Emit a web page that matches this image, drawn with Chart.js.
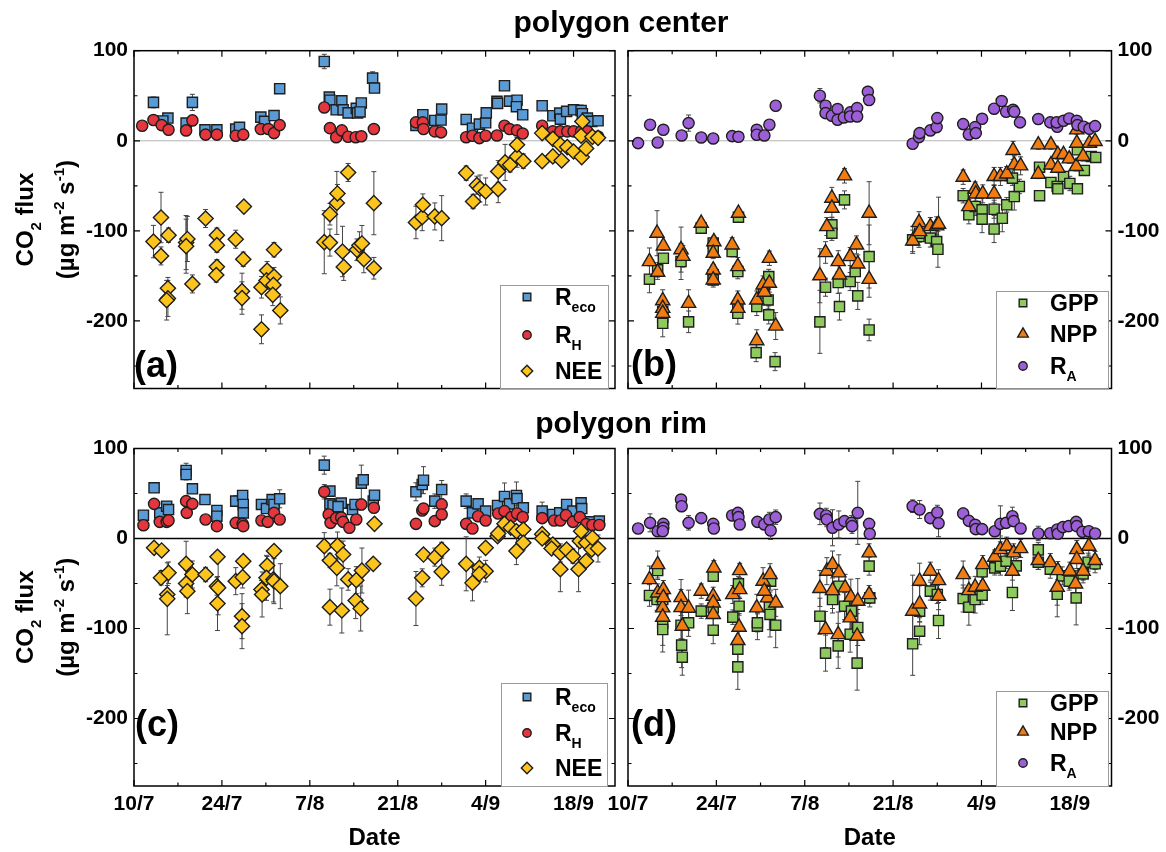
<!DOCTYPE html>
<html lang="en">
<head>
  <meta charset="UTF-8" />
  <title>CO2 flux - polygon center and rim</title>
  <style>
    body { margin: 0; background: #fff; font-family: "Liberation Sans", Arial, sans-serif; }
    #page { position: relative; width: 1166px; height: 852px; overflow: hidden; }
    #page canvas { position: absolute; left: 0; top: 0; }
    .title { position: absolute; left: 421px; width: 400px; text-align: center; font-weight: bold; font-size: 30px; line-height: 34px; }
  </style>
  <script src="https://cdn.jsdelivr.net/npm/chart.js"></script>
</head>
<body>
  <div id="page">
    <canvas id="chartA" width="1166" height="852"></canvas>
    <canvas id="chartB" width="1166" height="852"></canvas>
    <canvas id="chartC" width="1166" height="852"></canvas>
    <canvas id="chartD" width="1166" height="852"></canvas>
    <div class="title" style="top:5px">polygon center</div>
    <div class="title" style="top:406px">polygon rim</div>
  </div>

  <script>
    // x = days after 10 July, tick every 7 days, label every 14
    const dateLabels = ['10/7', '24/7', '7/8', '21/8', '4/9', '18/9'];
    const yTickLabels = [-200, -100, 0, 100];

    // [day, flux, error]  -- polygon center
    const recoCenter = [
      [3.1,42.6,6],[5.4,25.2,4],[4.6,22,3],[8.3,19.6,4],[9.3,42.6,9],[11.3,12.2,3],[13.2,12.2,3],[16.2,13,3],[16.8,15,3],
      [20.2,26.3,4],[20.8,21.5,4],[22.3,28,5],[23.2,57.8,5],
      [30.3,88,8],[31.1,48.5,5],[31.2,45,4],[32.2,34.4,4],[33.1,44.4,5],[33.3,34.4,4],[34.1,31,3],[35.4,36,4],[35.6,31,3],
      [36.2,42,4],[36.0,32,3],[38.0,69.6,7],[38.3,58.5,5],
      [44.9,17,3],[46,28.9,4],[47.9,22.6,4],[48.9,23,4],[49,35.2,4],
      [52.9,23.7,4],[53.9,14,3],[55,18.5,3],[56,20,4],[56.1,31,4],
      [57.8,43.7,4],[57.9,41.5,4],[59,61.1,4],[59.8,44,4],[61,45,4],[60.9,37.8,4],[61.9,28.9,4],
      [65,38.9,4],[66.7,27.8,4],[67.8,30.7,4],[67.9,24,4],[68.9,32.6,4],[70,34.4,4],[71.2,33.7,6],[71.4,30,4],
      [72.2,25.2,4],[72.9,21.5,4],[73.9,22.2,4]
    ];
    const rhCenter = [
      [1.3,16.7,4],[3.1,23,3],[4.4,17.4,3],[5.5,12.2,3],[8.3,11.5,3],[9.3,22.6,3],[11.4,6.8,3],[13.2,6.8,3],[16.2,5.6,3],
      [17.4,6.8,3],[20.2,13,3],[21.4,13,3],[22.3,8.5,3],[23.2,17.4,3],
      [30.3,37,3],[31.2,14,3],[32.2,4,3],[33.1,11.5,3],[34.1,4.5,3],[35.3,4,3],[36.2,5,3],[38.2,13,3],
      [44.9,20.4,3],[46,20.4,3],[46.1,13,3],[47.9,10.4,3],[48.9,9.3,3],
      [52.9,4,3],[53.9,5.6,3],[55,3,3],[56,5.6,3],[57.8,5.9,3],[59,16.7,3],[59.8,13,3],[61,11.5,3],[61.9,8,3],
      [65,16.7,3],[66.7,10.4,3],[67.9,10.4,3],[69,10.4,3],[70,10.4,3],[71.2,10.4,3],[72.2,10.4,3],[73.9,4.8,3]
    ];
    const neeCenter = [
      [3.1,-111.9,18],[4.3,-85.2,28],[4.3,-127.8,10],[5.5,-104.8,8],[5.4,-163.7,12],[5.4,-175,20],[5.2,-177,22],
      [8.3,-113,30],[8.5,-109,25],[8.3,-117,30],[9.3,-158.9,10],[11.4,-86.3,10],
      [13.2,-104.8,8],[13.2,-115.9,8],[13.2,-139.9,8],[13.1,-149,8],
      [16.2,-109.3,10],[17.5,-73,5],[17.4,-131.5,8],[17.2,-167,20],[17.2,-174.6,18],
      [20.3,-162.6,12],[20.3,-209.3,16],[21.2,-144,10],[21.1,-155,10],[22.3,-121,8],[22.3,-150.7,10],[22.2,-160,12],
      [22.1,-171,12],[23.3,-188.3,15],
      [30.3,-112.6,35],[31.2,-113,15],[31.2,-81.5,12],[32.3,-69,35],[32.4,-58.5,10],[34.1,-35.2,10],[33.2,-122.9,28],
      [33.4,-140,15],[35.5,-121,12],[35.9,-116,15],[36.3,-114,20],[36.6,-131.5,15],[38.2,-69.3,35],[38.2,-141.5,12],
      [44.9,-90.7,18],[45.9,-84.8,15],[46,-71,12],[47.9,-84,15],[49,-85.9,25],
      [52.9,-35.9,8],[54,-67.4,8],[54.6,-49.3,10],[55.1,-53,15],[56,-56.3,15],[58,-53.7,15],[58,-34,12],
      [59.1,-24,20],[59.9,-26.7,8],[61,-17.4,12],[61,-4.4,8],[62,-22.6,8],
      [65,-22.6,5],[65,8.5,5],[66.7,2.2,5],[66.7,-17.4,5],[67.9,-4.4,5],[68.1,-21.9,5],[69,-7,5],[70,-11.9,5],
      [71.2,5.6,5],[71.4,21.5,5],[71.3,-18.1,5],[72,-8.5,5],[73,4.4,5],[73.9,3.3,5]
    ];
    const raCenter = [
      [1.6,-2.6,3],[3.5,17.8,5],[4.7,-1.9,3],[5.6,12.2,3],[8.5,5.9,4],[9.6,19.6,9],[11.6,3.7,3],[13.5,2.6,3],[16.5,5.2,3],
      [17.5,4.4,3],[20.4,12.2,3],[20.4,6.7,3],[21.6,5.9,3],[22.4,17.8,4],[23.4,38.9,5],
      [30.4,50,8],[31.3,38.9,4],[31.3,30.7,4],[32.3,27.8,3],[33.2,35.2,4],[33.2,23.3,3],[34.2,25.9,3],[35.2,31.5,3],
      [35.2,27,3],[36.3,36.3,3],[36.3,27,3],[38,54.4,6],[38.2,45.2,4],
      [45.1,-3.3,3],[46.1,4.1,3],[46.2,8.5,3],[47.9,11.5,3],[48.9,15.2,3],[49,25.2,3],
      [53.1,18.5,3],[54,7,3],[55,15.2,3],[55.1,8.5,3],[56.1,24.4,3],
      [58,35.6,3],[59.2,44.1,4],[59.9,32.2,3],[61,34.4,4],[61.2,32.2,3],[62.1,20.4,4],
      [65,24.1,3],[66.9,20.4,3],[68,15.6,3],[67.9,20.4,3],[69,22.2,3],[69.9,24.8,4],[71.1,22.2,3],[71.2,17.4,3],
      [72.2,15.6,3],[73.1,13.3,3],[74,16.3,3]
    ];
    const gppCenter = [
      [3.4,-153.7,15],[4.7,-143.3,8],[5.6,-130.4,5],[5.5,-189.6,12],[5.5,-195.9,12],[5.5,-202.6,15],[8.4,-134,20],
      [9.6,-201,12],[11.6,-97,5],
      [13.5,-113.6,6],[13.5,-119,6],[13.5,-148.9,8],[13.5,-154.4,8],[16.5,-122.9,6],[17.5,-84.8,5],[17.4,-145.2,8],
      [17.4,-184,10],[17.4,-191.5,12],
      [20.4,-184,10],[20.3,-235.2,10],[21.5,-169,10],[22.2,-176.7,10],[22.3,-193.3,10],[22.3,-150.7,8],[23.3,-245.2,10],
      [30.4,-201,35],[31.3,-162.6,10],[32.3,-93.3,8],[32.3,-102.6,8],[33.3,-157.4,12],[33.5,-184,15],[34.3,-65.6,10],
      [35.2,-156.3,10],[36,-145.2,12],[36.4,-172.2,15],[38.2,-128.5,35],[38.2,-210,12],
      [45.1,-110,15],[46.1,-106.3,12],[46.2,-102.6,10],[47.9,-108,10],[48.9,-111.9,12],[49.1,-120.4,20],
      [53.1,-61,8],[54,-82.2,10],[55,-72.9,10],[56.1,-76.7,15],[56.1,-87,15],
      [58,-98,15],[58,-76,10],[59.3,-86,15],[60,-71.1,8],[61.2,-61.9,15],[62,-50.7,8],[60.9,-41.5,8],
      [65.2,-61,5],[65.2,-29.3,5],[67,-46.3,5],[68,-50.7,5],[68.1,-53.3,5],[69,-39.6,5],[70,-47.4,8],[71.2,-53.3,5],
      [71.2,-10,5],[72.3,-32.9,5],[73.4,-17.4,5],[74.1,-18.5,5]
    ];
    const nppCenter = [
      [3.4,-134,15],[4.6,-102.6,25],[4.7,-145.9,8],[5.6,-116.7,5],[5.5,-177.4,12],[5.5,-185.9,12],[5.5,-191.5,12],
      [8.4,-120.8,25],[8.7,-128.2,12],[9.6,-180.4,15],[11.6,-91.5,5],
      [13.6,-111.9,6],[13.5,-124.8,6],[13.5,-143.3,6],[13.5,-154.4,6],[16.5,-115.6,8],[17.5,-80.4,5],[17.4,-139.6,10],
      [17.4,-176.7,10],[17.4,-185.9,10],
      [20.4,-176.7,10],[20.4,-221.8,12],[21.4,-160,10],[21.6,-168,10],[22.4,-158,10],[22.4,-130.4,8],[23.4,-205.6,15],
      [30.4,-149.8,30],[31.3,-124,12],[32.3,-63.7,12],[32.3,-74.8,10],[31.5,-95.2,10],[33.3,-134,12],[33.5,-148.9,12],
      [34.3,-38.9,8],[35.2,-128.5,10],[36.2,-115.6,10],[36.4,-136.7,10],[38.2,-80.4,35],[38.2,-153.7,20],
      [45.1,-111.1,12],[46.1,-90.7,12],[46.2,-100.7,10],[47.9,-95.2,10],[48.9,-94.4,10],[49.2,-92.6,30],
      [53.1,-40.4,8],[54,-73,8],[55,-53.7,8],[55.1,-58.9,8],[56.2,-58.9,10],
      [58,-58.9,10],[58,-39.6,10],[59,-39.6,10],[60,-36.7,8],[61,-10.7,10],[61.2,-26.7,10],[62.2,-27.8,10],
      [65,-4.4,5],[65,-37,5],[67,-4.4,5],[68.1,-15.2,5],[69,-15.2,5],[67,-26.7,5],[68.1,-30.4,5],[69.9,-20,5],
      [71,-28.5,5],[71.1,12.2,5],[71.1,-2.6,5],[73.1,-2.6,5],[74,-0.7,5],[72.1,-17.4,5]
    ];

    // polygon rim
    const recoRim = [
      [1.5,25.9,4],[3.2,56.3,4],[4.1,28.5,4],[5.2,35.9,5],[5.5,32.2,5],[8.3,75.6,8],[8.3,71.1,6],[9.3,55.2,4],[11.3,43.3,4],
      [13.2,31.1,5],[13.2,24.8,4],
      [16.2,41.5,6],[17.3,47.8,4],[17.4,37.8,4],[17.4,28.5,4],[20.3,37.8,4],[21.1,33.3,4],[22,43.3,5],[22.3,37.8,5],[23.2,44.1,10],
      [30.3,81.5,10],[31.2,52.6,5],[31.2,38.5,4],[31.7,37,4],[33,39.3,5],[32.5,35.5,4],[34.8,32.2,5],[35.2,37.8,5],
      [36.2,61.5,20],[36.5,65.2,5],[38.1,41.5,5],[38.3,48.1,5],
      [44.9,51.9,10],[45.9,60,10],[46.1,64.8,15],[47.9,41.5,8],[49,54.4,10],
      [52.9,41.5,8],[53.9,28.5,5],[54.8,38.5,5],[56,30.4,5],
      [57.9,36.7,5],[59,46.7,15],[59.8,38.5,5],[60.9,47.8,15],[61,44.4,8],[62,34.1,5],
      [65,30.4,10],[66.7,26.7,5],[67.8,28.5,5],[68.9,37.8,5],[69.9,30.4,5],[71.2,39.6,5],[71.3,33.3,5],[72.6,18.5,5],[74.1,19.3,5]
    ];
    const rhRim = [
      [1.5,14.8,4],[3.2,38.5,5],[4.1,18.5,4],[5.2,18.5,4],[5.5,20,4],[8.3,41.5,5],[8.4,28.5,4],[9.3,38.5,4],[11.4,21.1,4],
      [13.2,13.7,5],[16.2,17.4,4],[17.3,16.3,4],[17.4,13.7,4],[20.3,20,4],[21.3,18.5,4],[22.3,28.5,4],[23.2,21.1,4],
      [30.3,51.9,8],[31,26.7,4],[31.3,17.4,4],[32.2,22.6,4],[33,23.3,5],[33.3,18.5,4],[34.3,11.9,4],[35.4,21.1,5],
      [36.2,37.8,6],[38.2,34.1,5],
      [44.9,16.3,4],[45.9,31.1,4],[46.1,33.3,4],[47.9,19.3,4],[49,37.8,4],[49,26.7,4],
      [52.9,16.3,4],[53.9,11.1,4],[54.8,24.8,4],[56,20,4],
      [58,27.8,4],[59,30.4,4],[60.1,23.7,4],[61,27.8,4],[61.9,23.7,4],
      [65,22.6,4],[66.9,20,4],[67.9,20,4],[68.8,25.9,4],[69.9,18.5,4],[71,23.7,4],[72,16,4],[73,15,4],[74.1,15,4]
    ];
    const neeRim = [
      [3.2,-10.4,5],[4.4,-13.3,5],[4.3,-43.7,8],[5.5,-38.1,12],[5.3,-62.2,10],[5.3,-67,40],
      [8.3,-28.1,25],[8.3,-50,15],[8.5,-58.5,25],[9.3,-40,15],[11.4,-40,8],
      [13.3,-20.4,5],[13.2,-53,10],[13.4,-54.8,30],[13.3,-72.2,30],
      [16.2,-47.4,15],[17.4,-25.2,5],[17.3,-43,12],[17.2,-86.3,25],[17.2,-97.4,25],
      [20.3,-56.7,10],[20.4,-62.2,25],[21.2,-30,10],[21.1,-43.7,25],[22.3,-14,5],[22.2,-45.5,25],[22.3,-47.4,25],[23.3,-53,25],
      [30.3,-8.5,15],[31.2,-24.4,8],[31.2,-76.3,20],[32.3,-32.6,20],[32.4,-7.8,15],[33.3,-17.8,15],[33.1,-80,25],
      [34.1,-45.5,12],[35.4,-46.3,15],[35.3,-69,20],[36.1,-77.8,25],[36.3,-35.6,25],[38.1,-28.1,5],[38.3,16.3,5],
      [44.9,-66.7,30],[45.9,-43.7,10],[46.1,-17.8,5],[47.9,-20.7,10],[49,-12.2,8],[49,-37,15],
      [52.9,-28.1,30],[53.9,-49.3,20],[55,-32.6,12],[56,-36.3,12],[55,-39.3,8],[56,-10.4,5],
      [57.9,2.6,5],[58,5.6,5],[59,16.3,5],[60,12,5],[60.9,8.1,5],[62,10,5],[62,-4.8,8],[60.9,-14,15],
      [65,4.8,5],[65,0,5],[66.7,-6.7,5],[66.5,-11.1,5],[67.9,-16,10],[68.9,-12.2,5],[69.9,-19.6,8],[71,-2.9,5],
      [72,-4.8,5],[72.9,-12.2,5],[73.9,-11.1,15],[73,0.7,5],[67.9,-34.1,25],[70.8,-34.1,25],[72,-25,5],[71.2,8.1,5]
    ];
    const raRim = [
      [1.6,11.1,4],[3.5,17.4,10],[4.7,8.1,4],[5.6,16.3,5],[5.6,11.9,4],[5.5,8.1,4],[8.4,43.3,5],[8.5,35.9,6],[9.6,17.4,8],
      [11.6,22.6,4],[13.5,16.3,4],[13.6,11.1,4],
      [16.5,25.6,4],[17.4,28.5,6],[17.5,23.7,4],[17.7,15.6,4],[20.5,18.5,5],[21.6,15.6,5],[22.4,21.1,8],[22.6,8.9,10],[23.4,23.7,8],
      [30.4,27.4,12],[31.4,25.6,8],[31.5,21.1,8],[32.4,11.9,20],[33.4,15.6,15],[34.3,19.3,5],[35.4,17.4,8],[35.5,13.7,8],
      [36.4,28.5,35],[38.2,16.3,5],[38.3,5.2,5],
      [45.1,35.9,7],[46.2,32.2,10],[47.9,22.6,6],[49,28.9,8],[49.2,17,15],
      [53.1,27.8,6],[54,19.6,5],[55,15.2,5],[55.1,10.4,5],[56.1,10.4,5],
      [58.1,8.1,5],[59,16.3,20],[59.9,17.4,5],[60.9,24.8,10],[61.1,19.3,5],[62.2,11.1,5],
      [65,5.6,8],[66.9,5.9,5],[68,10,5],[68.1,5.2,5],[68.9,12.6,5],[69.8,13.7,5],[71,18.5,5],[71.1,13.7,5],[72,7.4,5],
      [73,8.1,5],[74,5.6,5]
    ];
    const gppRim = [
      [3.4,-63.3,12],[4.7,-35.6,10],[4.6,-67.8,12],[5.5,-67.8,12],[5.5,-93.7,25],[5.5,-101.1,25],
      [8.4,-96.3,15],[8.5,-118.5,25],[8.6,-131.9,20],[9.6,-93.7,15],[11.6,-80.7,8],
      [13.5,-41.9,5],[13.5,-77,12],[13.5,-101.9,15],[16.6,-87.4,8],[17.5,-50.4,8],[17.6,-75.2,10],[17.4,-123,15],[17.4,-142.6,25],
      [20.5,-97.4,15],[20.5,-93.7,10],[22.4,-76.3,25],[22.5,-84.4,25],[23.4,-96.3,25],[22.6,-47.4,10],
      [30.4,-86.3,20],[31.3,-127.4,20],[32.4,-67.8,15],[33.4,-53,20],[33.3,-119.3,25],[34.3,-75.2,15],[35.2,-106.3,20],
      [35.4,-80.7,20],[36.4,-98.9,20],[36.3,-138.5,30],[38.2,-30.7,10],[38.3,-66,10],
      [45.1,-117,35],[46.2,-80.7,12],[46.2,-103,15],[47.9,-58.5,10],[49,-62.2,10],[49.2,-91.1,20],
      [53.1,-66.7,15],[54,-76.3,20],[55,-67.8,15],[56.1,-63,10],[56.1,-37,10],
      [58.1,-32.6,8],[59,-30.7,10],[59.9,-25.2,8],[60.9,-60,20],[61.5,-30.4,8],
      [65,-12.6,8],[65,-26.3,8],[66.9,-34.1,10],[68,-62,25],[68.8,-41.5,10],[69.9,-47.4,10],[71,-66,30],[72.1,-39.3,10],
      [72.9,-26.3,10],[74,-28.1,10]
    ];
    const nppRim = [
      [3.4,-45.6,15],[4.7,-28.9,15],[4.7,-60.4,10],[5.6,-56.7,10],[5.5,-77,15],[5.5,-87.4,15],[5.6,-65.6,10],
      [8.4,-65.6,20],[8.4,-76.7,20],[9.6,-77.4,20],[8.6,-97.4,25],[11.6,-58.5,8],
      [13.6,-32.6,8],[13.5,-64.1,10],[13.5,-71.5,10],[13.5,-84.4,15],[16.6,-62.2,10],[17.7,-35.6,8],[17.7,-56.7,10],
      [17.6,-98.5,15],[17.4,-113.3,15],
      [20.4,-77,15],[21.4,-47.4,15],[22.5,-40,12],[22.1,-65.9,15],[23.4,-71.5,15],[21.6,-58.5,10],
      [30.4,-55.5,20],[31.3,-101.1,20],[31.5,-36.3,15],[32.4,-28.9,15],[32.4,-57.8,20],[33.4,-38.1,20],[33.3,-106.7,25],
      [34.4,-54.8,15],[35.3,-65.2,20],[35.2,-88.1,20],[36.4,-69.6,25],[36.3,-108.5,25],[38.2,-15.9,10],[38.2,-62.2,10],
      [45.1,-80.7,40],[46.2,-47.4,20],[46.2,-72.6,20],[47.9,-36.3,10],[49.2,-46.7,12],[49.2,-64.1,15],
      [53.1,-40,15],[54,-57.8,15],[55,-54.1,12],[56.2,-52.9,10],[56.2,-28.9,10],
      [58.1,-20.7,8],[59,-12.2,15],[60,-8.5,10],[60.9,-36.3,10],[61.1,-15.9,10],[62.2,-11.1,10],
      [65,-24.4,10],[66.9,-26.7,10],[68,-54.1,20],[68.1,-35.6,10],[70,-36.3,10],[70.9,-50.4,15],[71.1,-12.2,10],
      [71.1,-23.3,10],[72.1,-36.3,10],[73,-8.5,10],[74,-24.4,10]
    ];

    const FONT = '"Liberation Sans", Arial, sans-serif';
    const colors = {
      reco: '#5b9bd5', rh: '#e5353d', nee: '#fcc41c',
      gpp: '#8fca5f', npp: '#f27c12', ra: '#9d5fd8'
    };
    const radius = { rect: 7.2, circle: 5.6, rectRot: 7.6, triangle: 8.2 };

    function series(label, rows, color, style) {
      return {
        label: label,
        data: rows.map(r => ({ x: r[0], y: r[1], e: r[2] })),
        backgroundColor: color,
        borderColor: '#1e1e1e',
        borderWidth: 1.4,
        pointStyle: style,
        pointRadius: radius[style],
        pointHoverRadius: radius[style]
      };
    }

    function marker(ctx, style, x, y, r) {
      ctx.beginPath();
      if (style === 'rect') {
        const h = r * Math.SQRT1_2;
        ctx.rect(x - h, y - h, 2 * h, 2 * h);
      } else if (style === 'circle') {
        ctx.arc(x, y, r, 0, Math.PI * 2);
      } else if (style === 'rectRot') {
        ctx.moveTo(x - r, y); ctx.lineTo(x, y - r); ctx.lineTo(x + r, y); ctx.lineTo(x, y + r); ctx.closePath();
      } else {
        for (let k = 0; k < 3; k++) {
          const a = -Math.PI / 2 + k * 2 * Math.PI / 3;
          k ? ctx.lineTo(x + r * Math.cos(a), y + r * Math.sin(a)) : ctx.moveTo(x + r * Math.cos(a), y + r * Math.sin(a));
        }
        ctx.closePath();
      }
      ctx.fill();
      ctx.stroke();
    }

    // parts: [text, shift] with shift 1 = subscript, -1 = superscript
    function richText(ctx, parts, x, y, size, align) {
      const small = Math.round(size * 0.62);
      let w = 0;
      parts.forEach(([t, s]) => { ctx.font = 'bold ' + (s ? small : size) + 'px ' + FONT; w += ctx.measureText(t).width; });
      let cx = align === 'center' ? x - w / 2 : x;
      parts.forEach(([t, s]) => {
        ctx.font = 'bold ' + (s ? small : size) + 'px ' + FONT;
        const dy = s > 0 ? size * 0.32 : s < 0 ? -size * 0.4 : 0;
        ctx.fillText(t, cx, y + dy);
        cx += ctx.measureText(t).width;
      });
    }

    function panelPlugin(cfg) {
      return {
        id: 'panel',
        beforeDatasetsDraw(chart) {
          const { ctx, chartArea: a, scales: { x, y } } = chart;
          ctx.save();
          const y0 = y.getPixelForValue(0);
          ctx.strokeStyle = cfg.zeroColor;
          ctx.lineWidth = cfg.zeroWidth;
          ctx.beginPath(); ctx.moveTo(a.left, y0); ctx.lineTo(a.right, y0); ctx.stroke();

          // error bars
          ctx.strokeStyle = '#444';
          ctx.lineWidth = 1;
          chart.data.datasets.forEach(ds => {
            ds.data.forEach(p => {
              const px = x.getPixelForValue(p.x);
              const t = y.getPixelForValue(p.y + p.e), b = y.getPixelForValue(p.y - p.e);
              ctx.beginPath();
              ctx.moveTo(px, t); ctx.lineTo(px, b);
              ctx.moveTo(px - 2.5, t); ctx.lineTo(px + 2.5, t);
              ctx.moveTo(px - 2.5, b); ctx.lineTo(px + 2.5, b);
              ctx.stroke();
            });
          });
          ctx.restore();
        },
        afterDraw(chart) {
          const { ctx, chartArea: a, scales: { x, y } } = chart;
          ctx.save();
          // frame with inward ticks
          ctx.strokeStyle = '#000';
          ctx.lineWidth = 1.5;
          ctx.strokeRect(a.left, a.top, a.right - a.left, a.bottom - a.top);
          ctx.lineWidth = 1.2;
          ctx.beginPath();
          for (let d = 0; d <= x.max; d += 7) {
            const px = x.getPixelForValue(d), len = d % 14 === 0 ? 6 : 3.5;
            ctx.moveTo(px, a.bottom); ctx.lineTo(px, a.bottom - len);
            ctx.moveTo(px, a.top); ctx.lineTo(px, a.top + len);
          }
          for (let v = -250; v <= 100; v += 50) {
            const py = y.getPixelForValue(v), len = v % 100 === 0 ? 6 : 3.5;
            ctx.moveTo(a.left, py); ctx.lineTo(a.left + len, py);
            ctx.moveTo(a.right, py); ctx.lineTo(a.right - len, py);
          }
          ctx.stroke();

          ctx.fillStyle = '#000';
          ctx.textBaseline = 'alphabetic';

          // panel letter
          ctx.font = 'bold 36px ' + FONT;
          ctx.textAlign = 'left';
          ctx.fillText(cfg.letter[0], cfg.letter[1], cfg.letter[2]);

          // y-axis title
          if (cfg.yTitle) {
            const cy = (a.top + a.bottom) / 2;
            ctx.save();
            ctx.translate(33, cy); ctx.rotate(-Math.PI / 2);
            richText(ctx, [['CO', 0], ['2', 1], [' flux', 0]], 0, 0, 24, 'center');
            ctx.restore();
            ctx.save();
            ctx.translate(74, cy); ctx.rotate(-Math.PI / 2);
            richText(ctx, [['(\u00b5g m', 0], ['-2', -1], [' s', 0], ['-1', -1], [')', 0]], 0, 0, 24, 'center');
            ctx.restore();
          }
          if (cfg.xTitle) {
            ctx.font = 'bold 24px ' + FONT;
            ctx.textAlign = 'center';
            ctx.fillText('Date', (a.left + a.right) / 2, 845);
          }

          // legend box
          const L = cfg.legend;
          ctx.fillStyle = '#fff';
          ctx.fillRect(L.box[0], L.box[1], L.box[2] - L.box[0], a.bottom - L.box[1]);
          ctx.strokeStyle = '#9a9a9a';
          ctx.lineWidth = 1;
          ctx.strokeRect(L.box[0] + 0.5, L.box[1] + 0.5, L.box[2] - L.box[0], a.bottom - L.box[1]);
          L.items.forEach((it, i) => {
            const ry = L.rows[i];
            ctx.fillStyle = it[1];
            ctx.strokeStyle = '#1e1e1e';
            ctx.lineWidth = 1.4;
            marker(ctx, it[0], L.mx, ry, radius[it[0]] * 0.75);
            ctx.fillStyle = '#000';
            ctx.textAlign = 'left';
            richText(ctx, [[it[2], 0], [it[3], 1]], L.tx, ry + 8, 23, 'left');
          });
          ctx.restore();
        }
      };
    }

    function makeChart(id, datasets, cfg) {
      const left = cfg.side === 'left';
      return new Chart(document.getElementById(id), {
        type: 'scatter',
        data: { datasets: datasets },
        options: {
          responsive: false,
          animation: false,
          events: [],
          devicePixelRatio: 1,
          layout: { padding: cfg.padding },
          scales: {
            x: {
              type: 'linear', min: 0, max: 76.6,
              grid: { display: false, drawTicks: false },
              border: { display: false },
              ticks: {
                display: cfg.xTitle, stepSize: 7, includeBounds: false, autoSkip: false, maxRotation: 0, padding: 6,
                color: '#000', font: { family: FONT, weight: 'bold', size: 21 },
                callback: v => (v % 14 === 0 ? dateLabels[v / 14] : '')
              },
              afterFit: s => { s.height = cfg.xTitle ? 40 : 0; }
            },
            y: {
              type: 'linear', position: cfg.side, min: -275, max: 100,
              grid: { display: false, drawTicks: false },
              border: { display: false },
              ticks: {
                stepSize: 50, includeBounds: false, autoSkip: false, padding: 6, color: '#000',
                font: { family: FONT, weight: 'bold', size: 21 },
                callback: v => (yTickLabels.includes(v) ? String(v) : '')
              },
              afterFit: s => { s.width = left ? 60 : 54.5; }
            }
          },
          plugins: { legend: { display: false }, tooltip: { enabled: false } }
        },
        plugins: [panelPlugin(cfg)]
      });
    }

    const legendLeft = [['rect', colors.reco, 'R', 'eco'], ['circle', colors.rh, 'R', 'H'], ['rectRot', colors.nee, 'NEE', '']];
    const legendRight = [['rect', colors.gpp, 'GPP', ''], ['triangle', colors.npp, 'NPP', ''], ['circle', colors.ra, 'R', 'A']];

    makeChart('chartA', [
      series('NEE', neeCenter, colors.nee, 'rectRot'),
      series('RH', rhCenter, colors.rh, 'circle'),
      series('Reco', recoCenter, colors.reco, 'rect')
    ], {
      side: 'left', xTitle: false, yTitle: true,
      padding: { left: 74, right: 551, top: 50.7, bottom: 463.5 },
      zeroColor: '#b4b4b4', zeroWidth: 1,
      letter: ['(a)', 134, 377],
      legend: { box: [500, 285, 608], rows: [297, 335, 371], mx: 527, tx: 555, items: legendLeft }
    });

    makeChart('chartB', [
      series('RA', raCenter, colors.ra, 'circle'),
      series('NPP', nppCenter, colors.npp, 'triangle'),
      series('GPP', gppCenter, colors.gpp, 'rect')
    ], {
      side: 'right', xTitle: false, yTitle: false,
      padding: { left: 628, right: 0, top: 50.7, bottom: 463.5 },
      zeroColor: '#b4b4b4', zeroWidth: 1,
      letter: ['(b)', 631, 376],
      legend: { box: [996, 291, 1108], rows: [303, 334, 366], mx: 1023, tx: 1050, items: legendRight }
    });

    makeChart('chartC', [
      series('NEE', neeRim, colors.nee, 'rectRot'),
      series('RH', rhRim, colors.rh, 'circle'),
      series('Reco', recoRim, colors.reco, 'rect')
    ], {
      side: 'left', xTitle: true, yTitle: true,
      padding: { left: 74, right: 551, top: 448.5, bottom: 26 },
      zeroColor: '#000', zeroWidth: 1.5,
      letter: ['(c)', 135, 736],
      legend: { box: [501, 683, 607], rows: [697, 733, 768], mx: 527, tx: 555, items: legendLeft }
    });

    makeChart('chartD', [
      series('RA', raRim, colors.ra, 'circle'),
      series('NPP', nppRim, colors.npp, 'triangle'),
      series('GPP', gppRim, colors.gpp, 'rect')
    ], {
      side: 'right', xTitle: true, yTitle: false,
      padding: { left: 628, right: 0, top: 448.5, bottom: 26 },
      zeroColor: '#000', zeroWidth: 1.5,
      letter: ['(d)', 631, 736],
      legend: { box: [996, 691, 1108], rows: [703, 732, 763], mx: 1023, tx: 1050, items: legendRight }
    });
  </script>
</body>
</html>
